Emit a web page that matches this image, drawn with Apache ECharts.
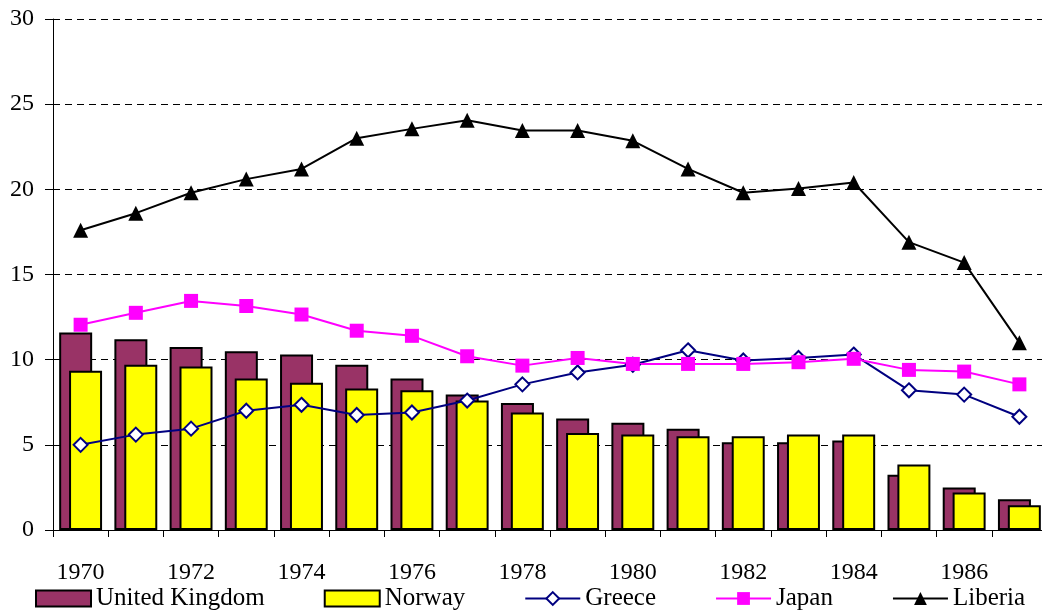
<!DOCTYPE html>
<html>
<head>
<meta charset="utf-8">
<script src="https://cdn.jsdelivr.net/npm/echarts@6/dist/echarts.min.js"></script>
<style>html,body{margin:0;padding:0;background:#fff;overflow:hidden;}#c{width:1050px;height:615px;}</style>
</head>
<body>
<div id="c"></div>
<script>
const years = ['1970','1971','1972','1973','1974','1975','1976','1977','1978','1979','1980','1981','1982','1983','1984','1985','1986','1987'];
const unitedKingdom = [11.6, 11.2, 10.75, 10.5, 10.3, 9.7, 8.9, 7.95, 7.45, 6.55, 6.3, 5.95, 5.15, 5.15, 5.25, 3.25, 2.5, 1.8];
const norway = [9.35, 9.7, 9.6, 8.9, 8.65, 8.3, 8.2, 7.6, 6.9, 5.7, 5.6, 5.5, 5.5, 5.6, 5.6, 3.85, 2.2, 1.45];
const greece = [5.0, 5.6, 5.95, 7.0, 7.35, 6.75, 6.9, 7.6, 8.55, 9.25, 9.7, 10.55, 9.95, 10.1, 10.3, 8.2, 7.95, 6.65];
const japan = [12.05, 12.75, 13.45, 13.15, 12.65, 11.7, 11.4, 10.2, 9.65, 10.1, 9.75, 9.75, 9.75, 9.85, 10.05, 9.4, 9.3, 8.55];
const liberia = [17.6, 18.6, 19.8, 20.6, 21.2, 23.0, 23.55, 24.05, 23.45, 23.45, 22.85, 21.2, 19.8, 20.05, 20.4, 16.9, 15.7, 11.0];
const yTicks = [0, 5, 10, 15, 20, 25, 30];

const serif = '"Liberation Serif", "Times New Roman", serif';
const chart = echarts.init(document.getElementById('c'), null, {renderer: 'canvas'});
chart.setOption({
  animation: false,
  backgroundColor: '#ffffff',
  textStyle: {fontFamily: serif, color: '#000'},
  grid: {left: 53, top: 19, right: 3, bottom: 85, containLabel: false},
  legend: {
    left: 35, top: 586, padding: 0, itemWidth: 55, itemHeight: 16, itemGap: 59,
    textStyle: {fontFamily: serif, fontSize: 25, color: '#000'},
    data: [
      {name: 'United Kingdom', icon: 'rect'},
      {name: 'Norway', icon: 'rect'},
      'Greece', 'Japan', 'Liberia'
    ]
  },
  xAxis: {
    type: 'category', data: years, boundaryGap: true,
    axisLine: {lineStyle: {color: '#000', width: 1}},
    axisTick: {show: true, interval: 0, alignWithLabel: false, length: 7, lineStyle: {color: '#000'}},
    axisLabel: {interval: 1, margin: 31, fontFamily: serif, fontSize: 24, color: '#000'},
    splitLine: {show: false}
  },
  yAxis: {
    type: 'value', min: yTicks[0], max: yTicks[yTicks.length - 1], interval: 5,
    axisLine: {show: true, lineStyle: {color: '#000', width: 1}},
    axisTick: {show: true, length: 8, lineStyle: {color: '#000'}},
    axisLabel: {margin: 19, fontFamily: serif, fontSize: 24, color: '#000'},
    splitLine: {show: true, lineStyle: {color: '#000', type: [7, 5], width: 1}}
  },
  series: [
    {name: 'United Kingdom', type: 'bar', data: unitedKingdom, barWidth: 33, barGap: '-70%',
     itemStyle: {color: '#993366', borderColor: '#000', borderWidth: 2}},
    {name: 'Norway', type: 'bar', data: norway, barWidth: 33, barGap: '-70%',
     itemStyle: {color: '#ffff00', borderColor: '#000', borderWidth: 2}},
    {name: 'Greece', type: 'line', data: greece, symbol: 'diamond', symbolSize: 14,
     lineStyle: {color: '#000080', width: 2}, itemStyle: {color: '#ffffff', borderColor: '#000080', borderWidth: 2}},
    {name: 'Japan', type: 'line', data: japan, symbol: 'rect', symbolSize: 14,
     lineStyle: {color: '#ff00ff', width: 2}, itemStyle: {color: '#ff00ff', borderColor: '#ff00ff', borderWidth: 0}},
    {name: 'Liberia', type: 'line', data: liberia, symbol: 'triangle', symbolSize: 15,
     lineStyle: {color: '#000000', width: 2}, itemStyle: {color: '#000000', borderColor: '#000', borderWidth: 0}}
  ]
});
</script>
</body>
</html>
